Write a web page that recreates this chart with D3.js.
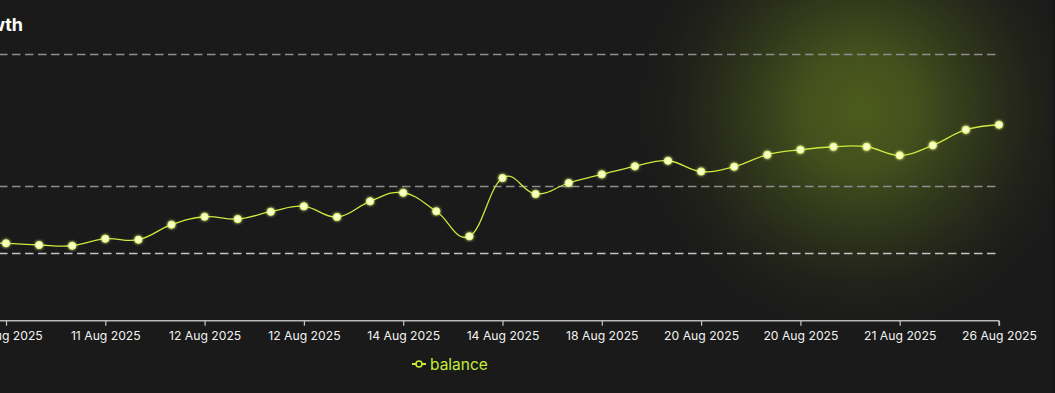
<!DOCTYPE html>
<html>
<head>
<meta charset="utf-8">
<script src="https://cdn.jsdelivr.net/npm/d3@7"></script>
<style>
  html, body { margin: 0; padding: 0; background: #1a1a1a; }
  svg { display: block; }
</style>
</head>
<body>
<svg id="chart" width="1055" height="393"></svg>
<script>
// ---- data ----
const title = "Balance Growth";
const seriesName = "balance";
const dates = [
  "10 Aug 2025", "10 Aug 2025", "10 Aug 2025", "11 Aug 2025", "11 Aug 2025", "11 Aug 2025",
  "12 Aug 2025", "12 Aug 2025", "12 Aug 2025", "12 Aug 2025", "12 Aug 2025", "13 Aug 2025",
  "13 Aug 2025", "14 Aug 2025", "14 Aug 2025", "14 Aug 2025", "14 Aug 2025", "15 Aug 2025",
  "17 Aug 2025", "18 Aug 2025", "19 Aug 2025", "19 Aug 2025", "20 Aug 2025", "20 Aug 2025",
  "20 Aug 2025", "20 Aug 2025", "21 Aug 2025", "21 Aug 2025", "21 Aug 2025", "22 Aug 2025",
  "25 Aug 2025", "26 Aug 2025"
];
const balance = [
  1160, 1145, 1120, 1109, 1213, 1198, 1420, 1538, 1504, 1612, 1692, 1534,
  1766, 1893, 1618, 1248, 2111, 1874, 2037, 2165, 2284, 2366, 2207, 2278,
  2455, 2529, 2573, 2573, 2446, 2594, 2825, 2899
];
const gridValues = [1000, 2000, 3940];
const tickEvery = 3;

// ---- layout ----
const svg = d3.select("#chart");
const W = 1055, H = 393;
const xLeft = -27.1, xRight = 999;
const yBottom = 320.7, yTop = 50.3;

const idx = d3.range(dates.length);
const x = d3.scalePoint().domain(idx).range([xLeft, xRight]);
const y = d3.scaleLinear().domain([0, 4000]).range([yBottom, yTop]);

const defs = svg.append("defs");
const rg = defs.append("radialGradient").attr("id", "glow")
  .attr("cx", 860).attr("cy", 110).attr("r", 235)
  .attr("gradientUnits", "userSpaceOnUse");
rg.append("stop").attr("offset", "0%").attr("stop-color", "#4c5b1d").attr("stop-opacity", 1);
rg.append("stop").attr("offset", "25%").attr("stop-color", "#47551d").attr("stop-opacity", 0.92);
rg.append("stop").attr("offset", "55%").attr("stop-color", "#333a1b").attr("stop-opacity", 0.75);
rg.append("stop").attr("offset", "80%").attr("stop-color", "#23261a").attr("stop-opacity", 0.45);
rg.append("stop").attr("offset", "100%").attr("stop-color", "#1a1a1a").attr("stop-opacity", 0);

const f = defs.append("filter").attr("id", "ptglow")
  .attr("x", "-100%").attr("y", "-100%").attr("width", "300%").attr("height", "300%");
f.append("feGaussianBlur").attr("in", "SourceGraphic").attr("stdDeviation", 1.6).attr("result", "b");
const fm = f.append("feMerge");
fm.append("feMergeNode").attr("in", "b");
fm.append("feMergeNode").attr("in", "SourceGraphic");

svg.append("rect").attr("width", W).attr("height", H).attr("fill", "#1a1a1a");
svg.append("rect").attr("width", W).attr("height", H).attr("fill", "url(#glow)");
svg.append("rect").attr("x", 1053).attr("y", 0).attr("width", 2).attr("height", H).attr("fill", "#161616");

// title
svg.append("text").attr("x", 23).attr("y", 31)
  .attr("text-anchor", "end")
  .attr("font-family", "Inter, 'Noto Sans', sans-serif")
  .attr("font-weight", 700).attr("font-size", 18)
  .attr("fill", "#ffffff").text(title);

// grid
svg.append("g").selectAll("line").data(gridValues).join("line")
  .attr("x1", -40).attr("x2", 997)
  .attr("y1", d => Math.round(y(d)) + 0.5).attr("y2", d => Math.round(y(d)) + 0.5)
  .attr("stroke", (d, i) => i === 0 ? "#c4c4c4" : "#8e8e8e")
  .attr("stroke-width", 1.6)
  .attr("stroke-dasharray", "8.5,4.5");

// x axis
const tickIdx = idx.filter(i => (i - 1) % tickEvery === 0);
const xAxis = d3.axisBottom(x).tickValues(tickIdx)
  .tickFormat(i => dates[i]).tickSize(5).tickPadding(6).tickSizeOuter(0);
const gx = svg.append("g").attr("transform", `translate(0,${yBottom})`).call(xAxis);
gx.select(".domain").attr("stroke", "#b8b8b8").attr("stroke-width", 1.6)
  .attr("d", `M${xLeft - 20},0H${xRight}`);
gx.selectAll(".tick line").attr("stroke", "#c8c8c8").attr("stroke-width", 1.2);
gx.selectAll(".tick text").attr("fill", "#f2f2f2")
  .attr("font-family", "Inter, 'Noto Sans', sans-serif").attr("font-size", 12.2);
svg.append("line").attr("x1", xRight).attr("x2", xRight)
  .attr("y1", yBottom).attr("y2", yBottom + 5).attr("stroke", "#c8c8c8").attr("stroke-width", 1.2);

// line
const line = d3.line().x((d, i) => x(i)).y(d => y(d)).curve(d3.curveCardinal.tension(-0.2));
svg.append("path").datum(balance).attr("d", line)
  .attr("fill", "none").attr("stroke", "#cfe83c").attr("stroke-width", 1.3);

// points
svg.append("g").selectAll("circle").data(balance).join("circle")
  .attr("cx", (d, i) => x(i)).attr("cy", d => y(d)).attr("r", 3.6)
  .attr("fill", "#f8ffc8").attr("stroke", "#e4f76a").attr("stroke-width", 1)
  .attr("filter", "url(#ptglow)");

// legend
const lg = svg.append("g").attr("transform", "translate(412,364)");
lg.append("line").attr("x1", 0).attr("x2", 14).attr("y1", 0).attr("y2", 0)
  .attr("stroke", "#c3ec38").attr("stroke-width", 2);
lg.append("circle").attr("cx", 7).attr("cy", 0).attr("r", 3)
  .attr("fill", "#1a1a1a").attr("stroke", "#c3ec38").attr("stroke-width", 1.6);
lg.append("text").attr("x", 18).attr("y", 5.5)
  .attr("font-family", "Inter, 'Noto Sans', sans-serif").attr("font-size", 15.5)
  .attr("fill", "#c3ec38").text(seriesName);
</script>
</body>
</html>
